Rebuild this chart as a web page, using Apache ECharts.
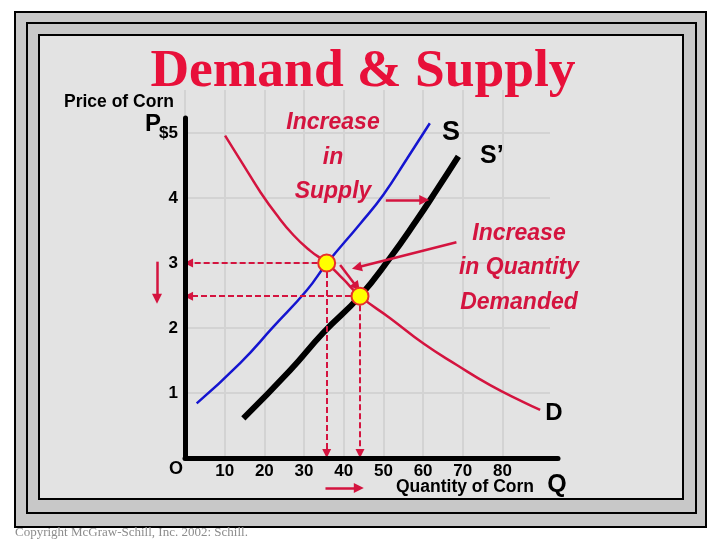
<!DOCTYPE html>
<html><head><meta charset="utf-8">
<script src="https://cdn.jsdelivr.net/npm/echarts@6/dist/echarts.min.js"></script>
<style>html,body{margin:0;padding:0;background:#fff}#c{width:720px;height:540px}</style>
</head><body><div id="c"></div>
<script>
// ---- data ----
const xTicks = [10, 20, 30, 40, 50, 60, 70, 80];
const yTicks = [1, 2, 3, 4, 5];
const supplyS = [[2.95, 0.84], [13.9, 1.46], [22.3, 2.02], [30.7, 2.58], [35.7, 2.99], [44.1, 3.6], [50.0, 4.05], [55.9, 4.6], [61.7, 5.15]];
const supplyS2 = [[14.7, 0.61], [26.5, 1.35], [34.9, 1.93], [44.1, 2.49], [51.7, 3.08], [58.4, 3.66], [63.4, 4.12], [68.9, 4.64]];
const demandD = [[10.1, 4.96], [14.7, 4.51], [18.9, 4.10], [23.1, 3.74], [27.3, 3.43], [31.5, 3.19], [35.7, 3.0], [39.9, 2.75], [44.1, 2.49], [51.7, 2.15], [60.1, 1.76], [68.5, 1.43], [76.9, 1.12], [85.3, 0.86], [89.5, 0.74]];
const equilibria = [[35.7, 3.0], [44.1, 2.49]];
const arrowsSolid = [
  [[50.6, 3.97], [60.3, 3.97]],
  [[68.4, 3.32], [43.3, 2.93]],
  [[39.1, 2.97], [43.3, 2.63]],
  [[-7.05, 3.02], [-7.05, 2.45]],
  [[35.4, -0.46], [43.8, -0.46]]
];

const RED = '#d4143f';
const FONT = '"Liberation Sans", Arial, sans-serif';
const GRIDLINE = { show: true, lineStyle: { color: '#d3d3d3', width: 2 } };

const dashed = [];
equilibria.forEach(p => {
  dashed.push({ coords: [p, [0.9, p[1]]] });
  dashed.push({ coords: [p, [p[0], 0.07]] });
});

const chart = echarts.init(document.getElementById('c'), null, { renderer: 'canvas' });

function txt(x, y, text, font, fill, align, extra) {
  return Object.assign({
    type: 'text', x: x, y: y, z: 100,
    style: { text: text, font: font, fill: fill, align: align || 'left', verticalAlign: 'middle' }
  }, extra || {});
}

const hidden = { axisLine: { show: false }, axisTick: { show: false }, axisLabel: { show: false } };

chart.setOption({
  backgroundColor: '#ffffff',
  animation: false,
  grid: [
    { left: 185, right: 162, top: 118, bottom: 82 },
    { left: 185, right: 217.6, top: 90, bottom: 82 },
    { left: 185, right: 170, top: 133, bottom: 82 }
  ],
  xAxis: [
    {
      type: 'value', min: 0, max: 94, interval: 10, z: 3,
      axisLine: { show: true, onZero: false, lineStyle: { color: '#000', width: 5 } },
      axisTick: { show: false },
      splitLine: { show: false },
      axisLabel: {
        margin: 5, color: '#000', fontWeight: 'bold', fontSize: 17, fontFamily: FONT,
        formatter: v => xTicks.includes(v) ? String(v) : ''
      }
    },
    Object.assign({ type: 'value', gridIndex: 1, min: 0, max: 80, interval: 10, splitLine: GRIDLINE, z: 0 }, hidden),
    Object.assign({ type: 'value', gridIndex: 2, min: 0, max: 92, splitLine: { show: false }, z: 0 }, hidden)
  ],
  yAxis: [
    {
      type: 'value', min: 0, max: 5.23, interval: 1, z: 3,
      axisLine: { show: true, onZero: false, lineStyle: { color: '#000', width: 5 } },
      axisTick: { show: false },
      splitLine: { show: false },
      axisLabel: {
        margin: 7, color: '#000', fontWeight: 'bold', fontSize: 17, fontFamily: FONT,
        formatter: v => yTicks.includes(v) ? (v === 5 ? '$5' : String(v)) : ''
      }
    },
    Object.assign({ type: 'value', gridIndex: 1, min: 0, max: 1, splitLine: { show: false }, z: 0 }, hidden),
    Object.assign({ type: 'value', gridIndex: 2, min: 0, max: 5, interval: 1, splitLine: GRIDLINE, z: 0 }, hidden)
  ],
  graphic: [
    { type: 'rect', z: -10, shape: { x: 15, y: 12, width: 691, height: 515 }, style: { fill: '#c8c8c8', stroke: '#000', lineWidth: 2 } },
    { type: 'rect', z: -9, shape: { x: 27, y: 23, width: 669, height: 490 }, style: { fill: '#c8c8c8', stroke: '#000', lineWidth: 2 } },
    { type: 'rect', z: -8, shape: { x: 39, y: 35, width: 644, height: 464 }, style: { fill: '#e3e3e3', stroke: '#000', lineWidth: 2 } },
    txt(363, 72, 'Demand & Supply', 'bold 53.5px "Liberation Serif", serif', '#e8103a', 'center'),
    txt(64, 102, 'Price of Corn', 'bold 17.5px ' + FONT, '#000'),
    txt(145, 124, 'P', 'bold 24px ' + FONT, '#000'),
    txt(176, 469, 'O', 'bold 18px ' + FONT, '#000', 'center'),
    txt(396, 487, 'Quantity of Corn', 'bold 17.5px ' + FONT, '#000'),
    txt(557, 485, 'Q', 'bold 25px ' + FONT, '#000', 'center'),
    txt(451, 133, 'S', 'bold 27px ' + FONT, '#000', 'center'),
    txt(480, 156, 'S\u2019', 'bold 25px ' + FONT, '#000'),
    txt(554, 413, 'D', 'bold 24px ' + FONT, '#000', 'center'),
    { type: 'text', x: 333, y: 157.5, z: 100, style: { text: 'Increase\nin\nSupply', font: 'italic bold 23px ' + FONT, fill: RED, align: 'center', verticalAlign: 'middle', lineHeight: 34.5 } },
    { type: 'text', x: 519, y: 268, z: 100, style: { text: 'Increase\nin Quantity\nDemanded', font: 'italic bold 23px ' + FONT, fill: RED, align: 'center', verticalAlign: 'middle', lineHeight: 34.5 } },
    txt(15, 533, 'Copyright McGraw-Schill, Inc. 2002: Schill.', '13px "Liberation Serif", serif', '#8c8c8c')
  ],
  series: [
    { type: 'line', z: 2, data: supplyS, smooth: 0.5, showSymbol: false, lineStyle: { color: '#1515d0', width: 2.5 } },
    { type: 'line', z: 2, data: supplyS2, smooth: 0.5, showSymbol: false, lineStyle: { color: '#000', width: 6 } },
    { type: 'line', z: 2, data: demandD, smooth: 0.5, showSymbol: false, lineStyle: { color: RED, width: 2.5 } },
    {
      type: 'lines', coordinateSystem: 'cartesian2d', z: 3, clip: false,
      symbol: ['none', 'triangle'], symbolSize: [8, 9],
      lineStyle: { color: RED, width: 2, type: [6, 3], opacity: 1 },
      data: dashed
    },
    {
      type: 'lines', coordinateSystem: 'cartesian2d', z: 3, clip: false,
      symbol: ['none', 'triangle'], symbolSize: [9, 10],
      lineStyle: { color: RED, width: 2.5, opacity: 1 },
      data: arrowsSolid.map(a => ({ coords: a }))
    },
    {
      type: 'scatter', z: 5, data: equilibria, symbolSize: 17,
      itemStyle: { color: '#ffff00', borderColor: '#e8302a', borderWidth: 2, opacity: 1 }
    }
  ]
});
</script></body></html>
